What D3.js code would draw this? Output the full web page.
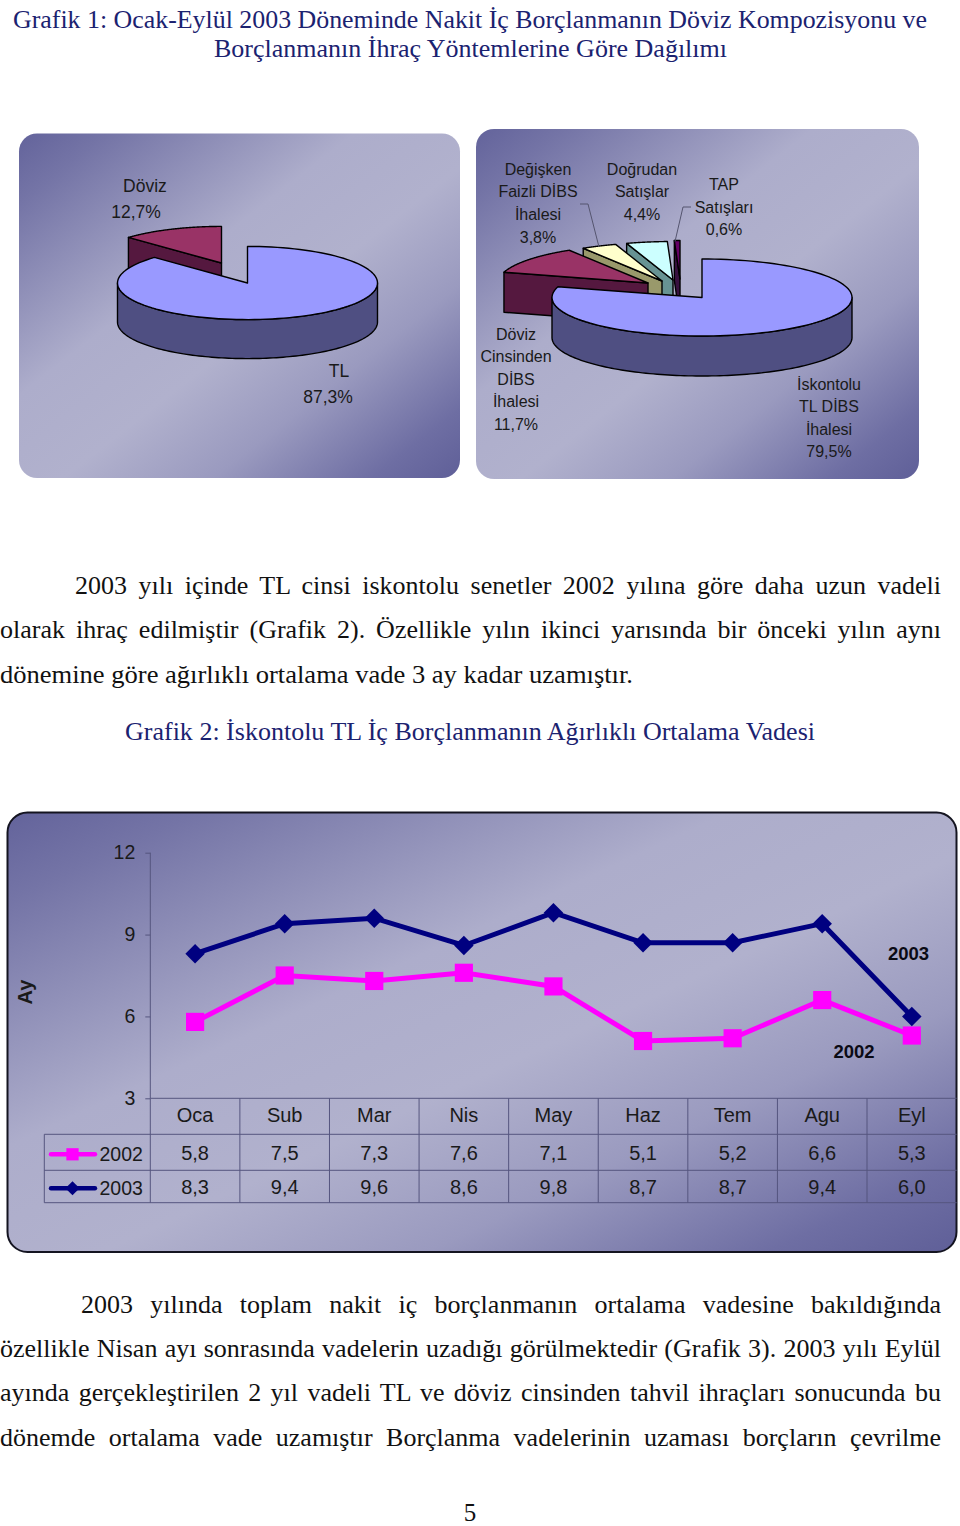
<!DOCTYPE html>
<html lang="tr">
<head>
<meta charset="utf-8">
<script src="https://cdn.jsdelivr.net/npm/d3@7"></script>
<style>
html,body{margin:0;padding:0;background:#fff;}
svg{display:block;}
</style>
</head>
<body>
<svg id="c" width="960" height="1526"></svg>
<script>
// ---------- data ----------
const pie1Values = [87.3, 12.7];
const pie1Labels = [["TL", "87,3%"], ["Döviz", "12,7%"]];
const pie2Values = [79.5, 11.7, 3.8, 4.4, 0.6];
const pie2Labels = [
  ["İskontolu", "TL DİBS", "İhalesi", "79,5%"],
  ["Döviz", "Cinsinden", "DİBS", "İhalesi", "11,7%"],
  ["Değişken", "Faizli DİBS", "İhalesi", "3,8%"],
  ["Doğrudan", "Satışlar", "4,4%"],
  ["TAP", "Satışları", "0,6%"]
];
const months = ["Oca", "Sub", "Mar", "Nis", "May", "Haz", "Tem", "Agu", "Eyl"];
const series2002 = [5.8, 7.5, 7.3, 7.6, 7.1, 5.1, 5.2, 6.6, 5.3];
const series2003 = [8.3, 9.4, 9.6, 8.6, 9.8, 8.7, 8.7, 9.4, 6.0];
const yTicks = [3, 6, 9, 12];
const title1 = ["Grafik 1: Ocak-Eylül 2003 Döneminde Nakit İç Borçlanmanın Döviz Kompozisyonu ve",
                "Borçlanmanın İhraç Yöntemlerine Göre Dağılımı"];
const title2 = "Grafik 2: İskontolu TL İç Borçlanmanın Ağırlıklı Ortalama Vadesi";
const para1 = ["2003 yılı içinde TL cinsi iskontolu senetler 2002 yılına göre daha uzun vadeli",
               "olarak ihraç edilmiştir (Grafik 2). Özellikle yılın ikinci yarısında bir önceki yılın aynı",
               "dönemine göre ağırlıklı ortalama vade 3 ay kadar uzamıştır."];
const para2 = ["2003 yılında toplam nakit iç borçlanmanın ortalama vadesine bakıldığında",
               "özellikle Nisan ayı sonrasında vadelerin uzadığı görülmektedir (Grafik 3). 2003 yılı Eylül",
               "ayında gerçekleştirilen 2 yıl vadeli TL ve döviz cinsinden tahvil ihraçları sonucunda bu",
               "dönemde ortalama vade uzamıştır Borçlanma vadelerinin uzaması borçların çevrilme"];
const pageNumber = "5";

// ---------- setup ----------
const svg = d3.select("#c");
const SANS = "'Liberation Sans', Arial, sans-serif";
const SERIF = "'Liberation Serif', 'Times New Roman', serif";
const INK = "#1a1a1a";
const defs = svg.append("defs");
const bg = defs.append("linearGradient").attr("id", "panel")
  .attr("x1", 0).attr("y1", 0).attr("x2", 1).attr("y2", 1);
[[0, "#63639b"], [0.1, "#7474a6"], [0.38, "#adadcb"], [0.55, "#b1b1cd"], [0.72, "#9a9abf"], [0.9, "#6e6ea3"], [1, "#5f5f98"]]
  .forEach(([o, c]) => bg.append("stop").attr("offset", o).attr("stop-color", c));

// ---------- body text ----------
function fitted(text, x0, x1, y, opt = {}) {
  const t = svg.append("text").attr("x", x0).attr("y", y).text(text)
    .attr("font-family", SERIF).attr("font-size", opt.size || 25).attr("fill", opt.fill || "#111");
  const w = t.node().getComputedTextLength();
  if (opt.justify) {
    const gaps = text.split(" ").length - 1;
    t.attr("word-spacing", (x1 - x0 - w) / gaps);
  } else {
    t.attr("textLength", x1 - x0).attr("lengthAdjust", "spacingAndGlyphs");
  }
  return t;
}
const NAVY = "#1b2270";
fitted(title1[0], 13, 927, 27.5, {fill: NAVY});
fitted(title1[1], 214, 727, 57, {fill: NAVY});
fitted(title2, 125, 815, 740, {fill: NAVY});
[[75, 593.5], [0, 638], [0, 682.5]].forEach(([x, y], i) =>
  fitted(para1[i], x, i < 2 ? 941 : 633, y, {justify: i < 2, size: 26}));
[[81, 1312.5], [0, 1356.5], [0, 1401], [0, 1445.5]].forEach(([x, y], i) =>
  fitted(para2[i], x, 941, y, {justify: true, size: 26}));
svg.append("text").attr("x", 470).attr("y", 1520.5).attr("text-anchor", "middle")
  .attr("font-family", SERIF).attr("font-size", 25).attr("fill", "#111").text(pageNumber);

// ---------- pies ----------
function panel(x, y, w, h, r) {
  return svg.append("rect").attr("x", x).attr("y", y).attr("width", w).attr("height", h)
    .attr("rx", r).attr("ry", r).attr("fill", "url(#panel)");
}
const line = d3.line();
function drawPie(values, geo, tops, walls, offsets) {
  const arcs = d3.pie().sort(null)(values);
  const g = svg.append("g");
  const P = (a, ox, oy, dz = 0) => [geo.cx + ox + geo.rx * Math.sin(a), geo.cy + oy - geo.ry * Math.cos(a) + dz];
  // draw back slices first, main slice last
  arcs.map((d, i) => ({d, i})).reverse().forEach(({d, i}) => {
    const [ox, oy] = offsets[i];
    const apex = [geo.cx + ox, geo.cy + oy];
    const rim = d3.quantize(d3.interpolateNumber(d.startAngle, d.endAngle), 120);
    if (i === 0) {
      // front wall of the main slice
      const a0 = Math.max(d.startAngle, Math.PI / 2), a1 = Math.min(d.endAngle, Math.PI * 1.5);
      const f = d3.quantize(d3.interpolateNumber(a0, a1), 120);
      const pts = f.map(a => P(a, ox, oy)).concat(f.slice().reverse().map(a => P(a, ox, oy, geo.depth)));
      g.append("path").attr("d", line(pts) + "Z").attr("fill", walls[i]).attr("stroke", "#000").attr("stroke-width", 1.4).attr("stroke-linejoin", "round");
    } else {
      // visible cut face of the exploded slice
      const l = P(d.startAngle, ox, oy);
      const pts = [l, apex, [apex[0], apex[1] + geo.depth], [l[0], l[1] + geo.depth]];
      g.append("path").attr("d", line(pts) + "Z").attr("fill", walls[i]).attr("stroke", "#000").attr("stroke-width", 1.4).attr("stroke-linejoin", "round");
    }
    const top = [apex].concat(rim.map(a => P(a, ox, oy)));
    g.append("path").attr("d", line(top) + "Z").attr("fill", tops[i]).attr("stroke", "#000").attr("stroke-width", 1.4).attr("stroke-linejoin", "round");
  });
}
function labels(lines, x, ys, size) {
  svg.append("text").attr("font-family", SANS).attr("font-size", size).attr("fill", INK)
    .attr("text-anchor", "middle")
    .selectAll("tspan").data(lines).join("tspan")
    .attr("x", (d, i) => Array.isArray(x) ? x[i] : x)
    .attr("y", (d, i) => ys[i]).attr("dy", "0.36em").text(d => d);
}

panel(19, 133.5, 441, 344.5, 18);
panel(476, 129, 443, 350, 18);

drawPie(pie1Values, {cx: 247.5, cy: 283, rx: 130, ry: 36.6, depth: 39},
  ["#9999ff", "#993366"], ["#4f4f82", "#55183f"], [[0, 0], [-26, -20]]);
labels(pie1Labels[1], [145, 136], [186, 212], 17.5);
labels(pie1Labels[0], [339, 328], [371, 397], 17.5);

drawPie(pie2Values, {cx: 702, cy: 297.5, rx: 150, ry: 38.5, depth: 40},
  ["#9999ff", "#993366", "#ffffcc", "#ccffff", "#660066"],
  ["#4f4f82", "#55183f", "#99996b", "#679393", "#38103f"],
  [[0, 0], [-54, -14.5], [-40, -16.5], [-29, -17.5], [-22, -18.5]]);
labels(pie2Labels[0], 829, [384, 406, 429, 451], 16);
labels(pie2Labels[1], 516, [334, 356, 379, 401, 424], 16);
labels(pie2Labels[2], 538, [169, 191, 214, 237], 16);
labels(pie2Labels[3], 642, [169, 191, 214], 16);
labels(pie2Labels[4], 724, [184, 207, 229], 16);
// leader lines
[[[580, 204], [588, 204], [599, 247]], [[691, 207], [683, 207], [675, 241.5]]].forEach(p =>
  svg.append("path").attr("d", line(p)).attr("fill", "none").attr("stroke", "#55556f").attr("stroke-width", 1));

// ---------- line chart with data table ----------
panel(7.5, 812.5, 949, 439.5, 20).attr("stroke", "#141420").attr("stroke-width", 2);

const x = d3.scaleBand().domain(months).range([150.3, 956.6]);
const y = d3.scaleLinear().domain([3, 12]).range([1098.3, 852.7]);
const rowY = [1098.3, 1134.3, 1170.3, 1202.7];
const GRID = "#55557f";

const yAxis = d3.axisLeft(y).tickValues(yTicks).tickSize(5).tickPadding(10).tickFormat(d3.format("d"));
const ya = svg.append("g").attr("transform", "translate(150.3,0)").call(yAxis);
ya.selectAll("path,line").attr("stroke", GRID).attr("stroke-width", 1);
ya.select(".domain").attr("d", `M0,${y(12)}H-0V${y(3)}`);
ya.selectAll("text").attr("font-family", SANS).attr("font-size", 19.5).attr("fill", INK);

svg.append("text").attr("transform", "translate(24.5,992) rotate(-90)").attr("text-anchor", "middle").attr("dy", "0.36em")
  .attr("font-family", SANS).attr("font-size", 20).attr("font-weight", "bold").attr("fill", INK).text("Ay");

// table grid
const grid = svg.append("g").attr("stroke", GRID).attr("stroke-width", 1);
rowY.forEach((r, i) => grid.append("line").attr("x1", i ? 44.3 : 150.3).attr("x2", 956.6).attr("y1", r).attr("y2", r));
grid.append("line").attr("x1", 44.3).attr("x2", 44.3).attr("y1", rowY[1]).attr("y2", rowY[3]);
months.forEach(m => grid.append("line").attr("x1", x(m)).attr("x2", x(m)).attr("y1", rowY[0]).attr("y2", rowY[3]));

const mid = m => x(m) + x.bandwidth() / 2;
const cell = (m, yy, t) => svg.append("text").attr("x", mid(m)).attr("y", yy).attr("dy", "0.36em").attr("text-anchor", "middle")
  .attr("font-family", SANS).attr("font-size", 20).attr("fill", INK).text(t);
months.forEach((m, i) => {
  cell(m, 1115, m);
  cell(m, 1152.5, String(series2002[i]).replace(".", ","));
  cell(m, 1186.5, series2003[i].toFixed(1).replace(".", ","));
});

const PINK = "#ff00ff", BLUE = "#000080";
const lineGen = d3.line().x((d, i) => mid(months[i])).y(d => y(d));
const sq = d3.symbol().type(d3.symbolSquare);
function series(vals, color, big, diamond) {
  svg.append("path").attr("d", lineGen(vals)).attr("fill", "none").attr("stroke", color).attr("stroke-width", 5).attr("stroke-linejoin", "miter");
  svg.selectAll(null).data(vals).join("path")
    .attr("d", sq.size(big)())
    .attr("fill", color)
    .attr("transform", (d, i) => `translate(${mid(months[i])},${y(d)})` + (diamond ? " rotate(45)" : ""));
}
series(series2002, PINK, 330, false);
series(series2003, BLUE, 190, true);

// legend keys in the table
[[2002, 1154.3, PINK, 150, false, 1154], [2003, 1188.3, BLUE, 100, true, 1188]].forEach(([name, ly, c, s, d, ty]) => {
  svg.append("line").attr("x1", 51).attr("x2", 95).attr("y1", ly).attr("y2", ly).attr("stroke", c).attr("stroke-width", 4.4).attr("stroke-linecap", "round");
  svg.append("path").attr("d", sq.size(s)()).attr("fill", c).attr("transform", `translate(72.5,${ly})` + (d ? " rotate(45)" : ""));
  svg.append("text").attr("x", 99.5).attr("y", ty).attr("dy", "0.36em")
    .attr("font-family", SANS).attr("font-size", 19.5).attr("fill", INK).text(name);
});
// series labels
[["2003", 908.5, 953], ["2002", 854, 1051.5]].forEach(([t, lx, ly]) =>
  svg.append("text").attr("x", lx).attr("y", ly).attr("dy", "0.36em").attr("text-anchor", "middle")
    .attr("font-family", SANS).attr("font-size", 18.5).attr("font-weight", "bold").attr("fill", "#0a0a14").text(t));
</script>
</body>
</html>
